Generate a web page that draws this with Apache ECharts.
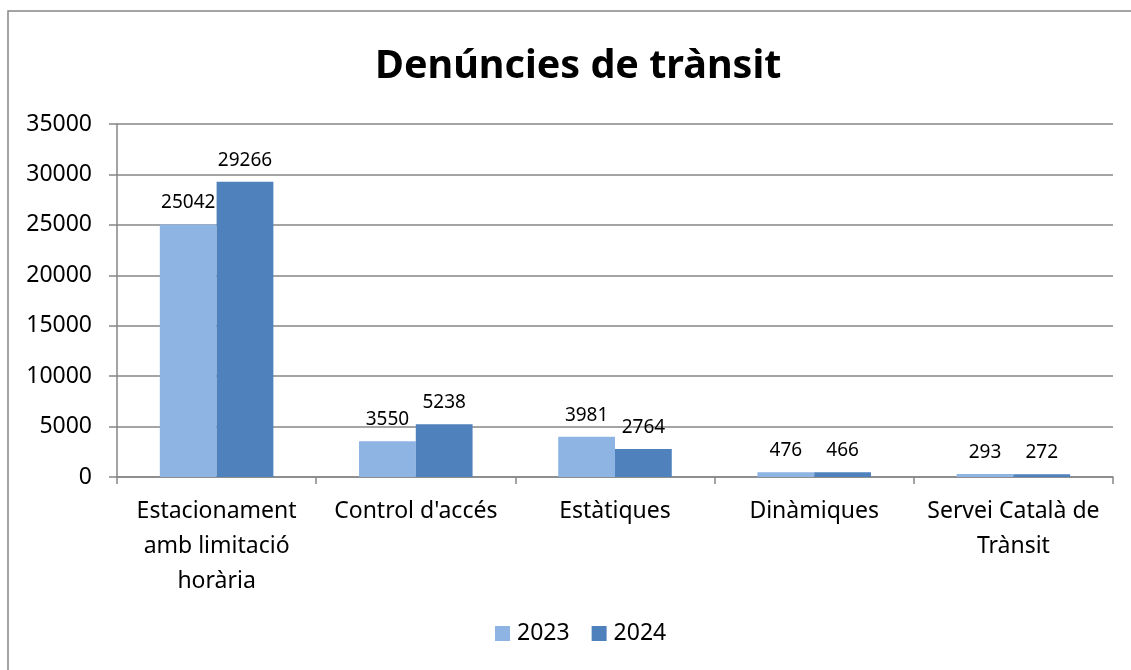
<!DOCTYPE html>
<html style="height: 100%">
<head>
    <meta charset="utf-8">
    <script src="https://cdn.jsdelivr.net/npm/echarts@6/dist/echarts.min.js"></script>
</head>
<body style="height: 100%; margin: 0; background: #fff">
<div id="container" style="width: 1131px; height: 670px"></div>
<script>
    // dades
    var categories = ['Estacionament\namb limitació\nhorària', "Control d'accés", 'Estàtiques', 'Dinàmiques', 'Servei Català de\nTrànsit'];
    var years = ['2023', '2024'];
    var values2023 = [25042, 3550, 3981, 476, 293];
    var values2024 = [29266, 5238, 2764, 466, 272];
    var yTicks = [0, 5000, 10000, 15000, 20000, 25000, 30000, 35000];

    var font = 'Noto Sans';
    var gris = '#868686';
    var dom = document.getElementById('container');
    var myChart = echarts.init(dom);

    function serie(name, data, color) {
        return {
            name: name,
            type: 'bar',
            data: data,
            barGap: 0,
            barCategoryGap: '43%',
            itemStyle: {color: color},
            label: {
                show: true,
                position: 'top',
                distance: 12,
                color: '#000',
                fontFamily: font,
                fontSize: 19
            }
        };
    }

    var option = {
        animation: false,
        title: {
            text: 'Denúncies de trànsit',
            left: 370,
            top: 42,
            textStyle: {fontFamily: font, fontSize: 39.5, fontWeight: 'bold', color: '#000'}
        },
        graphic: [{
            type: 'rect',
            shape: {x: 8, y: 11, width: 1300, height: 900},
            style: {fill: 'none', stroke: gris, lineWidth: 1.5},
            silent: true
        }],
        legend: {
            data: years,
            bottom: 20,
            left: 490,
            itemWidth: 15,
            itemHeight: 15,
            itemGap: 22,
            icon: 'rect',
            textStyle: {fontFamily: font, fontSize: 23, color: '#000', padding: [0, 0, 0, 2]}
        },
        grid: {left: 117, right: 18, top: 124, bottom: 193},
        xAxis: {
            type: 'category',
            data: categories,
            axisLine: {lineStyle: {color: gris, width: 1.5}},
            axisTick: {show: true, length: 7, lineStyle: {color: gris, width: 1.5}},
            axisLabel: {
                interval: 0,
                margin: 17,
                color: '#000',
                fontFamily: font,
                fontSize: 23,
                lineHeight: 35
            }
        },
        yAxis: {
            type: 'value',
            min: yTicks[0],
            max: yTicks[yTicks.length - 1],
            interval: 5000,
            axisLine: {show: true, lineStyle: {color: gris, width: 1.5}},
            axisTick: {show: true, length: 8, lineStyle: {color: gris, width: 1.5}},
            splitLine: {lineStyle: {color: gris, width: 1.5}},
            axisLabel: {
                margin: 25,
                color: '#000',
                fontFamily: font,
                fontSize: 23,
                formatter: function (v) { return String(v); }
            }
        },
        series: [
            serie(years[0], values2023, '#8EB4E3'),
            serie(years[1], values2024, '#4F81BD')
        ]
    };
    myChart.setOption(option, true);
</script>
</body>
</html>
